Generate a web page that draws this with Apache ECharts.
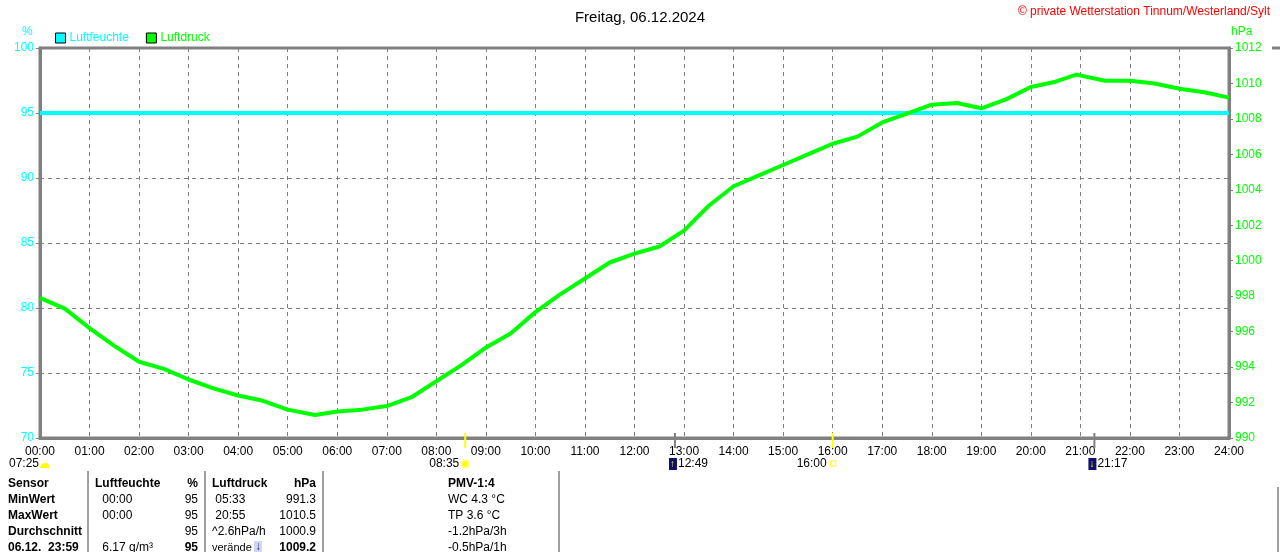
<!DOCTYPE html>
<html>
<head>
<meta charset="utf-8">
<script src="https://cdn.jsdelivr.net/npm/echarts@6/dist/echarts.min.js"></script>
<style>
html,body{margin:0;padding:0;background:#fff}
#main{width:1280px;height:552px}
</style>
</head>
<body>
<div id="main"></div>
<script>
// Tagesdaten Luftdruck / Luftfeuchte 06.12.2024
var pressureTimes = ['00:00','00:30','01:00','01:30','02:00','02:30','03:00','03:30','04:00','04:30',
    '05:00','05:33','06:00','06:30','07:00','07:30','08:00','08:30','09:00','09:30',
    '10:00','10:30','11:00','11:30','12:00','12:30','13:00','13:30','14:00','14:30',
    '15:00','15:30','16:00','16:30','17:00','17:30','18:00','18:30','19:00','19:30',
    '20:00','20:30','20:55','21:30','22:00','22:30','23:00','23:30','24:00'];
var pressureValues = [997.9,997.3,996.2,995.2,994.3,993.9,993.3,992.8,992.4,992.1,
    991.6,991.3,991.5,991.6,991.8,992.3,993.2,994.1,995.1,995.9,
    997.1,998.1,999.0,999.9,1000.4,1000.8,1001.7,1003.1,1004.2,1004.8,
    1005.4,1006.0,1006.6,1007.0,1007.8,1008.3,1008.8,1008.9,1008.6,1009.1,
    1009.8,1010.1,1010.5,1010.15,1010.15,1010.0,1009.7,1009.5,1009.2];
var humidityTimes = ['00:00','24:00'];
var humidityValues = [95,95];

// Sonne / Mond Ereignisse
var eventTimes = ['08:35','12:49','16:00','21:17'];
var eventKinds = ['sun','moonUp','sunOut','moonDown'];
var sunriseLabel = '07:25';

// Tabelle unten
var tableHeader = ['Sensor','Luftfeuchte','%','Luftdruck','hPa','PMV-1:4'];
var tableRows = [
    ['MinWert',' 00:00','95',' 05:33','991.3','WC 4.3 \u00b0C'],
    ['MaxWert',' 00:00','95',' 20:55','1010.5','TP 3.6 \u00b0C'],
    ['Durchschnitt','','95','^2.6hPa/h','1000.9','-1.2hPa/3h'],
    ['06.12.  23:59',' 6.17 g/m\u00b3','95','ver\u00e4nderlich','1009.2','-0.5hPa/1h']
];

var FONT = 'Liberation Sans, Arial, sans-serif';
var CYAN = '#00ffff', GREEN = '#00ff00', GRAY = '#808080';

function toHours(t){
    var p = t.split(':');
    return parseInt(p[0],10) + parseInt(p[1],10)/60;
}
function pad(n){ return (n<10?'0':'')+n; }

var pressureData = pressureTimes.map(function(t,i){ return [toHours(t), pressureValues[i]]; });
var humidityData = humidityTimes.map(function(t,i){ return [toHours(t), humidityValues[i]]; });

var chart = echarts.init(document.getElementById('main'));
var option = {
    animation: false,
    title: {
        text: 'Freitag, 06.12.2024',
        left: 'center',
        top: 5,
        textStyle: {fontFamily: FONT, fontSize: 15, fontWeight: 'normal', color: '#000'}
    },
    legend: {
        left: 50,
        top: 27,
        itemWidth: 10,
        itemHeight: 10,
        itemGap: 17,
        icon: 'rect',
        selectedMode: false,
        textStyle: {fontFamily: FONT, fontSize: 12, padding: [1,0,0,-1]},
        data: [
            {name: 'Luftfeuchte', textStyle: {color: CYAN}, itemStyle: {borderColor: '#000', borderWidth: 1}},
            {name: 'Luftdruck', textStyle: {color: GREEN}, itemStyle: {borderColor: '#000', borderWidth: 1}}
        ]
    },
    grid: {
        left: 40, right: 51, top: 48, bottom: 114,
        show: true, borderColor: GRAY, borderWidth: 3
    },
    xAxis: {
        type: 'value',
        min: 0, max: 24, interval: 1,
        axisLine: {lineStyle: {color: GRAY, width: 3}},
        axisTick: {show: false},
        axisLabel: {
            color: '#000', fontFamily: FONT, fontSize: 12, margin: 8,
            formatter: function(v){ return pad(v)+':00'; }
        },
        splitLine: {show: true, lineStyle: {color: GRAY, type: [4,4], width: 1}}
    },
    yAxis: [
        {
            type: 'value', position: 'left',
            min: 70, max: 100, interval: 5,
            axisLine: {show: true, lineStyle: {color: GRAY, width: 3}},
            axisTick: {show: true, length: 4, lineStyle: {color: GRAY}},
            axisLabel: {color: CYAN, fontFamily: FONT, fontSize: 12, margin: 6},
            splitLine: {show: true, lineStyle: {color: GRAY, type: [4,4], width: 1}}
        },
        {
            type: 'value', position: 'right',
            min: 990, max: 1012, interval: 2,
            axisLine: {show: true, lineStyle: {color: GRAY, width: 3}},
            axisTick: {show: true, length: 4, lineStyle: {color: GRAY}},
            axisLabel: {color: GREEN, fontFamily: FONT, fontSize: 12, margin: 6,
                formatter: function(v){ return String(v); }},
            splitLine: {show: false}
        }
    ],
    series: [
        {
            name: 'Luftfeuchte', type: 'line', yAxisIndex: 0,
            data: humidityData, showSymbol: false, color: CYAN,
            lineStyle: {width: 4, color: CYAN}, z: 2
        },
        {
            name: 'Luftdruck', type: 'line', yAxisIndex: 1,
            data: pressureData, showSymbol: false, color: GREEN,
            lineStyle: {width: 4, color: GREEN}, z: 3
        }
    ]
};
chart.setOption(option);

// Zusatzgrafik: Einheiten, Copyright, Sonne/Mond, Tabelle
var g = [];
g.push({type: 'text', x: 1270, y: 6, style: {text: '\u00a9 private Wetterstation Tinnum/Westerland/Sylt', fill: '#ff0000', font: '12px ' + FONT, align: 'right'}});
g.push({type: 'text', x: 22, y: 26, style: {text: '%', fill: CYAN, font: '12px ' + FONT}});
g.push({type: 'text', x: 1231, y: 26, style: {text: 'hPa', fill: GREEN, font: '12px ' + FONT}});

var axisY = chart.convertToPixel({yAxisIndex: 0}, 70);
// Sonnenaufgang links
g.push({type: 'text', x: 9, y: 458, style: {text: sunriseLabel, fill: '#000', font: '12px ' + FONT}});
g.push({type: 'sector', shape: {cx: 45, cy: 468, r0: 0, r: 5, startAngle: Math.PI, endAngle: 2*Math.PI}, style: {fill: '#ffff00'}});

eventTimes.forEach(function(t, i){
    var x = chart.convertToPixel({xAxisIndex: 0}, toHours(t));
    var kind = eventKinds[i];
    var isSun = kind === 'sun' || kind === 'sunOut';
    g.push({type: 'line', shape: {x1: x, y1: axisY - 5, x2: x, y2: axisY + 10},
        style: {stroke: isSun ? '#ffff00' : GRAY, lineWidth: 2}, z: 20});
    if (kind === 'sun') {
        g.push({type: 'text', x: x - 6, y: 458, style: {text: t, fill: '#000', font: '12px ' + FONT, align: 'right'}});
        g.push({type: 'circle', shape: {cx: x, cy: 464, r: 4}, style: {fill: '#ffff00', stroke: '#ffff99', lineWidth: 2}});
    } else if (kind === 'sunOut') {
        g.push({type: 'text', x: x - 6, y: 458, style: {text: t, fill: '#000', font: '12px ' + FONT, align: 'right'}});
        g.push({type: 'rect', shape: {x: x - 2, y: 461, width: 5, height: 5}, style: {fill: 'none', stroke: '#ffff00', lineWidth: 1}});
    } else {
        g.push({type: 'rect', shape: {x: x - 6, y: 458, width: 8, height: 12}, style: {fill: '#101070'}});
        g.push({type: 'text', x: x - 5, y: 459, style: {text: kind === 'moonUp' ? '\u2191' : '\u2193', fill: '#ffff00', font: 'bold 10px ' + FONT}});
        g.push({type: 'text', x: x + 3, y: 458, style: {text: t, fill: '#000', font: '12px ' + FONT}});
    }
});

// Tabelle
var colX = [8, 95, 198, 212, 316, 448];
var colAlign = ['left','left','right','left','right','left'];
var rowY = [478, 494, 510, 526, 542];
[tableHeader].concat(tableRows).forEach(function(row, r){
    row.forEach(function(cell, c){
        var bold = r === 0 || c === 0 || (r === 4 && (c === 2 || c === 4));
        var st = {text: cell, fill: '#000', align: colAlign[c], font: (bold ? 'bold ' : '') + '12px ' + FONT};
        if (r === 4 && c === 3) { st.font = '11px ' + FONT; st.width = 42; st.overflow = 'truncate'; st.ellipsis = ''; }
        g.push({type: 'text', x: colX[c] + (r > 0 && c === 1 ? 4 : 0), y: rowY[r], style: st});
    });
});
g.push({type: 'rect', shape: {x: 254, y: 541, width: 8, height: 11}, style: {fill: '#d0d8f0'}});
g.push({type: 'text', x: 255, y: 541, style: {text: '\u2193', fill: '#203080', font: 'bold 12px ' + FONT}});
[88, 205, 323, 559].forEach(function(x){
    g.push({type: 'line', shape: {x1: x, y1: 471, x2: x, y2: 552}, style: {stroke: '#a0a0a0', lineWidth: 2}});
});
g.push({type: 'line', shape: {x1: 1278, y1: 487, x2: 1278, y2: 552}, style: {stroke: '#a0a0a0', lineWidth: 2}});
// Rand des naechsten Panels
g.push({type: 'line', shape: {x1: 1272, y1: 48, x2: 1280, y2: 48}, style: {stroke: GRAY, lineWidth: 3}});

chart.setOption({graphic: g});
</script>
</body>
</html>
